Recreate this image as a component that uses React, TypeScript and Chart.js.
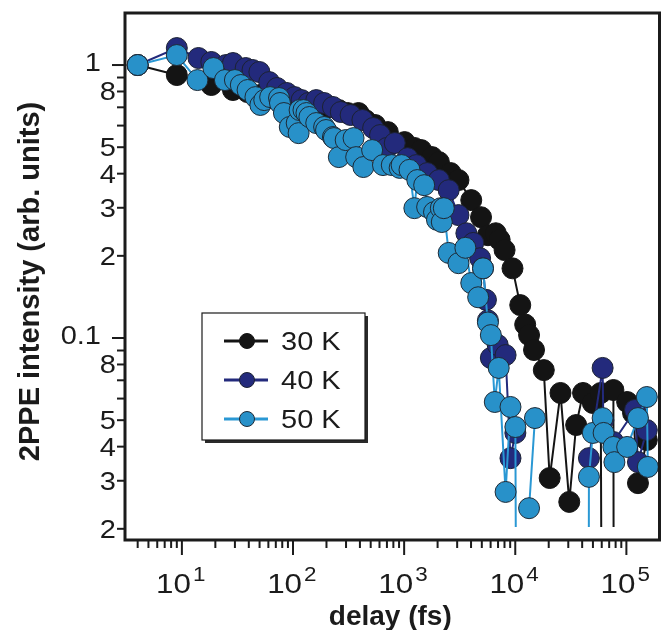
import React, { useEffect, useRef } from "react";
import { Chart, registerables } from "chart.js";

Chart.register(...registerables);

// ---------- data (delay in fs, normalized 2PPE intensity) ----------
const delay30 = [4, 9, 18.4, 28.8, 39, 50, 65, 88, 108, 146, 198, 258, 310, 388, 447, 548, 713, 1009, 1236, 1425, 1782, 2054, 2619, 3083, 4018, 4920, 5673, 6675, 7238, 8015, 9441, 11090, 12280, 13310, 14750, 18060, 20400, 25520, 30620, 35320, 40740, 49890, 58750, 62400, 64000, 76400, 78000, 80000, 101600, 114800, 127100, 152700];
const intensity30 = [1.0, 0.919, 0.845, 0.81, 0.796, 0.776, 0.776, 0.763, 0.732, 0.714, 0.696, 0.684, 0.667, 0.667, 0.629, 0.603, 0.568, 0.522, 0.497, 0.488, 0.46, 0.441, 0.402, 0.379, 0.32, 0.277, 0.238, 0.242, 0.229, 0.21, 0.18, 0.132, 0.112, 0.1025, 0.0904, 0.0763, 0.0307, 0.0629, 0.0251, 0.048, 0.0629, 0.0578, 0.0629, 0.0001, null, 0.0645, 0.0001, null, 0.0583, 0.0531, 0.0294, 0.0423];

const delay40 = [4, 9, 14.1, 18.4, 24.9, 28.8, 37.5, 43.2, 49.8, 61.1, 71.8, 87.9, 103.5, 119.4, 137.6, 161.8, 190.5, 228.6, 269, 330, 421, 526, 607, 699, 823, 1072, 1286, 1610, 2054, 2517, 3083, 3631, 4188, 4825, 5124, 5447, 5673, 6030, 6952, 8183, 9057, 10020, 11000, 46010, 61100, 62000, 76400, 119600, 127100, 152700];
const intensity40 = [1.0, 1.154, 1.061, 1.026, 1.0, 1.017, 0.975, 0.959, 0.943, 0.866, 0.824, 0.79, 0.763, 0.744, 0.726, 0.744, 0.726, 0.702, 0.673, 0.656, 0.629, 0.588, 0.554, 0.497, 0.518, 0.456, 0.43, 0.402, 0.379, 0.348, 0.282, 0.242, 0.223, 0.196, 0.18, 0.138, 0.116, 0.0845, 0.0943, 0.0866, 0.0363, 0.0449, null, 0.0363, 0.0777, 0.05, 0.0416, 0.0545, 0.0351, 0.046];

const delay50 = [4, 9, 13.8, 19.2, 24.4, 30, 33.9, 39, 45.9, 50.8, 55.1, 62.3, 74.8, 76.3, 82.8, 93.5, 107.9, 112.3, 114.6, 124.2, 132.1, 140.4, 161.8, 190.5, 198.3, 228.6, 233.3, 258.3, 297.8, 350.6, 370, 429.5, 515, 645, 774, 911, 949, 1117, 1236, 1313, 1514, 1610, 1857, 1974, 2138, 2182, 2274, 2517, 3083, 3556, 4018, 4634, 5124, 5673, 6030, 6543, 7096, 8183, 9057, 10020, 10650, 11500, 13310, 15040, 16000, 45080, 46010, 49890, 61100, 62400, 76400, 78000, 101600, 127100, 152700, 156000];
const intensity50 = [1.0, 1.088, 0.881, 0.975, 0.881, 0.881, 0.845, 0.81, 0.763, 0.714, 0.744, 0.763, 0.757, 0.726, 0.667, 0.593, 0.613, 0.563, 0.684, 0.684, 0.667, 0.645, 0.613, 0.593, 0.578, 0.545, 0.54, 0.46, 0.531, 0.54, 0.46, 0.423, 0.488, 0.43, 0.43, 0.42, 0.43, 0.413, 0.299, 0.379, 0.363, 0.302, 0.289, 0.271, 0.299, 0.266, 0.299, 0.205, 0.188, 0.214, 0.159, 0.141, 0.18, 0.114, 0.1025, 0.0583, 0.0777, 0.0273, 0.0559, 0.0472, 0.0001, null, 0.0238, 0.0509, null, 0.0001, 0.031, 0.0449, 0.0509, 0.0449, 0.0399, 0.0351, 0.0399, 0.0509, 0.0608, 0.0337];

const seriesLabels = ["30 K", "40 K", "50 K"];
const seriesFill = ["#141414", "#232a7c", "#2891c9"];
const seriesLine = ["#141414", "#232a7c", "#2a98d4"];
const seriesEdge = ["#141414", "#1c2233", "#1e2a36"];

// axis ranges and tick labels
const X_MIN = 3.076;
const X_MAX = 198600;
const Y_MIN = 0.0182;
const Y_MAX = 1.551;
const xLabelExponents = [1, 2, 3, 4, 5];
const yLabelValues = [1, 0.8, 0.5, 0.4, 0.3, 0.2, 0.1, 0.08, 0.05, 0.04, 0.03, 0.02];
const yLabelTexts = ["1", "8", "5", "4", "3", "2", "0.1", "8", "5", "4", "3", "2"];
const yMajorValues = [1, 0.1];

const xTitle = "delay (fs)";
const yTitle = "2PPE intensity (arb. units)";

const FONT = '"Liberation Sans", Arial, Helvetica, sans-serif';
const INK = "#1b1b1b";

function stretchedText(
  ctx: CanvasRenderingContext2D,
  text: string,
  x: number,
  y: number,
  align: CanvasTextAlign,
  font: string,
  sx: number
) {
  ctx.save();
  ctx.font = font;
  ctx.translate(x, y);
  ctx.scale(sx, 1);
  ctx.textAlign = align;
  ctx.textBaseline = "alphabetic";
  ctx.fillText(text, 0, 0);
  ctx.restore();
}

const igorAxes = {
  id: "igorAxes",
  afterDraw(chart: any) {
    const ctx: CanvasRenderingContext2D = chart.ctx;
    const a = chart.chartArea;
    const xs = chart.scales.x;
    const ys = chart.scales.y;
    ctx.save();
    ctx.strokeStyle = INK;
    ctx.fillStyle = INK;
    ctx.lineCap = "butt";

    // x tick marks
    ctx.lineWidth = 2;
    for (let e = 0; e <= 5; e++) {
      for (let m = 1; m <= 9; m++) {
        const v = m * Math.pow(10, e);
        if (v < xs.min || v > xs.max) continue;
        const px = xs.getPixelForValue(v);
        if (px < a.left + 3 || px > a.right - 3) continue;
        const len = m === 1 ? 15 : 8;
        ctx.beginPath();
        ctx.moveTo(px, a.bottom);
        ctx.lineTo(px, a.bottom + len);
        ctx.stroke();
      }
    }
    // y tick marks
    for (let e = -2; e <= 0; e++) {
      for (let m = 1; m <= 9; m++) {
        const v = m * Math.pow(10, e);
        if (v < ys.min || v > ys.max) continue;
        const py = ys.getPixelForValue(v);
        const len = m === 1 ? 13 : 8;
        ctx.beginPath();
        ctx.moveTo(a.left - len, py);
        ctx.lineTo(a.left, py);
        ctx.stroke();
      }
    }

    // frame
    ctx.lineWidth = 3;
    ctx.strokeRect(a.left, a.top, a.right - a.left, a.bottom - a.top);

    // x labels 10^n
    xLabelExponents.forEach((n) => {
      const px = xs.getPixelForValue(Math.pow(10, n));
      stretchedText(ctx, "10", px + 9, a.bottom + 53, "right", `28px ${FONT}`, 1.12);
      stretchedText(ctx, String(n), px + 11, a.bottom + 41, "left", `20px ${FONT}`, 1.12);
    });

    // y labels
    yLabelValues.forEach((v, i) => {
      const py = ys.getPixelForValue(v);
      const major = yMajorValues.includes(v);
      stretchedText(
        ctx,
        yLabelTexts[i],
        major ? a.left - 24 : a.left - 9,
        py + (major ? 6 : 9),
        "right",
        `25px ${FONT}`,
        1.16
      );
    });

    // axis titles
    ctx.font = `bold 28px ${FONT}`;
    ctx.textAlign = "center";
    ctx.textBaseline = "alphabetic";
    ctx.fillText(xTitle, (a.left + a.right) / 2 - 2, a.bottom + 85);
    ctx.save();
    ctx.translate(39, (a.top + a.bottom) / 2 + 5);
    ctx.rotate(-Math.PI / 2);
    ctx.font = `bold 29px ${FONT}`;
    ctx.fillText(yTitle, 0, 0);
    ctx.restore();

    // legend box
    const L = { left: 202, top: 313, right: 365, bottom: 440 };
    ctx.fillStyle = "#2a2a2a";
    ctx.fillRect(L.left + 3, L.top + 3, L.right - L.left, L.bottom - L.top);
    ctx.fillStyle = "#ffffff";
    ctx.fillRect(L.left, L.top, L.right - L.left, L.bottom - L.top);
    ctx.strokeStyle = INK;
    ctx.lineWidth = 1.2;
    ctx.strokeRect(L.left, L.top, L.right - L.left, L.bottom - L.top);
    chart.data.datasets.forEach((ds: any, i: number) => {
      const cy = 341 + i * 39;
      ctx.strokeStyle = ds.borderColor;
      ctx.lineWidth = 3;
      ctx.beginPath();
      ctx.moveTo(224, cy);
      ctx.lineTo(268, cy);
      ctx.stroke();
      ctx.beginPath();
      ctx.arc(247, cy, 7.5, 0, Math.PI * 2);
      ctx.fillStyle = ds.pointBackgroundColor;
      ctx.fill();
      ctx.lineWidth = 1;
      ctx.strokeStyle = ds.pointBorderColor;
      ctx.stroke();
      ctx.fillStyle = INK;
      stretchedText(ctx, ds.label, 281, cy + 9, "left", `25px ${FONT}`, 1.16);
    });
    ctx.restore();
  },
};

const delays = [delay30, delay40, delay50];
const intensities = [intensity30, intensity40, intensity50];

export default function App() {
  const canvasRef = useRef<HTMLCanvasElement | null>(null);

  useEffect(() => {
    if (!canvasRef.current) return;
    const chart = new Chart(canvasRef.current, {
      type: "line",
      data: {
        datasets: seriesLabels.map((label, i) => ({
          label,
          data: delays[i].map((d, k) => ({ x: d, y: intensities[i][k] })),
          borderColor: seriesLine[i],
          backgroundColor: seriesFill[i],
          pointBackgroundColor: seriesFill[i],
          pointBorderColor: seriesEdge[i],
          pointBorderWidth: 1,
          pointRadius: 10.5,
          pointHoverRadius: 10.5,
          borderWidth: 2,
          tension: 0,
          spanGaps: false,
          order: 3 - i,
          clip: { left: 0, top: 0, right: 0, bottom: -13 },
        })),
      } as any,
      options: {
        responsive: false,
        animation: false,
        events: [],
        layout: { padding: { left: 0, top: 13, right: 1, bottom: 0 } },
        plugins: { legend: { display: false }, tooltip: { enabled: false } },
        scales: {
          x: {
            type: "logarithmic",
            min: X_MIN,
            max: X_MAX,
            grid: { display: false },
            border: { display: false },
            ticks: { display: false },
            afterFit: (s: any) => {
              s.height = 90;
            },
          },
          y: {
            type: "logarithmic",
            min: Y_MIN,
            max: Y_MAX,
            grid: { display: false },
            border: { display: false },
            ticks: { display: false },
            afterFit: (s: any) => {
              s.width = 125;
            },
          },
        },
      } as any,
      plugins: [igorAxes],
    });
    return () => chart.destroy();
  }, []);

  return (
    <div style={{ position: "absolute", left: 0, top: 0, width: 671, height: 630, background: "#fff" }}>
      <canvas ref={canvasRef} width={671} height={630} style={{ display: "block" }} />
    </div>
  );
}
